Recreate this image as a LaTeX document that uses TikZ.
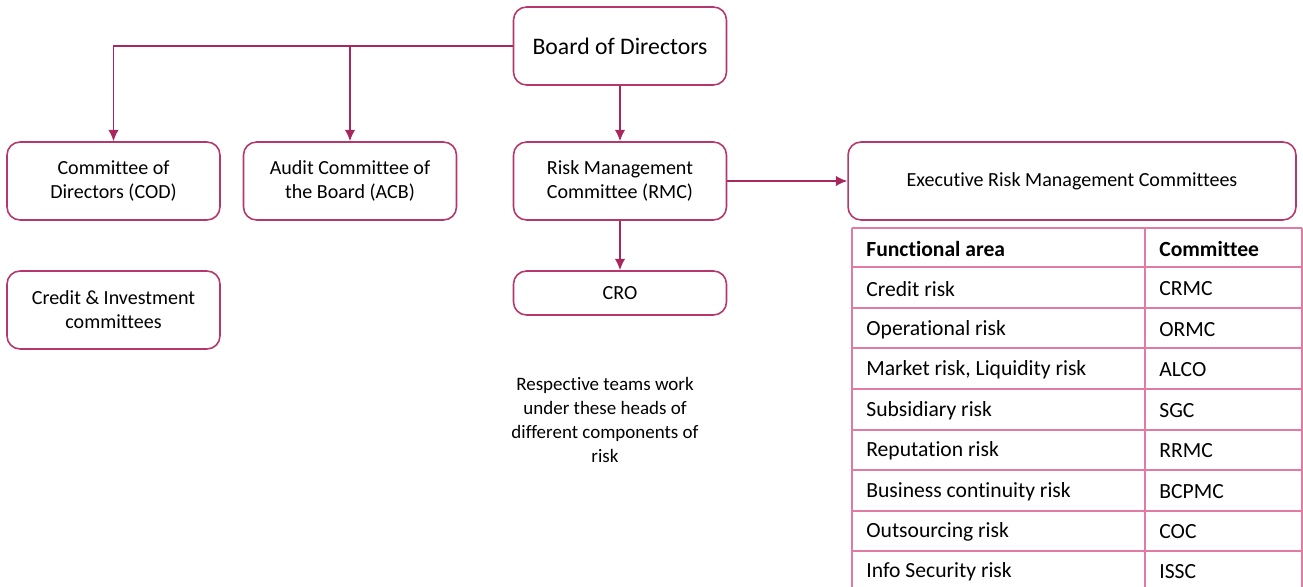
\documentclass[tikz,border=0pt]{standalone}
\usepackage{fontspec}
\setmainfont{Carlito}[Ligatures={NoCommon,NoContextual},Contextuals=NoAlternate]
\usetikzlibrary{positioning,arrows.meta}

\definecolor{boxline}{HTML}{B5376B}
\definecolor{arrowline}{HTML}{A8285E}
\definecolor{gridline}{HTML}{E27BA3}

\begin{document}
\begin{tikzpicture}[x=0.02cm,y=-0.02cm,>={Latex[length=6.5pt,width=6pt]}]
\tikzstyle{unit}=[rectangle,rounded corners=0.26cm,draw=boxline,line width=0.9pt,fill=white,align=center,font=\fontsize{11.4}{13.6}\selectfont,minimum width=4.26cm,minimum height=1.56cm,inner sep=2pt]
\tikzstyle{link}=[draw=arrowline,line width=0.9pt,->]
\tikzstyle{cell}=[anchor=west,inner sep=0pt,font=\fontsize{12.3}{14}\selectfont]
\useasboundingbox (0,0) rectangle (1303,587);

\node[unit,font=\fontsize{13.5}{16}\selectfont](board) at (620,46) {Board of Directors};
\node[unit](cod) at (113.5,181) {Committee of\\Directors (COD)};
\node[unit](acb) at (350,181) {Audit Committee of\\the Board (ACB)};
\node[unit](rmc) at (620,181) {Risk Management\\Committee (RMC)};
\node[unit,minimum width=8.96cm](erm) at (1072,181) {Executive Risk Management Committees};
\node[unit](cic) at (113.5,310) {Credit \& Investment\\committees};
\node[unit,minimum height=0.88cm](cro) at (620,293) {CRO};
\node[align=center,font=\fontsize{10.8}{13.6}\selectfont](teams) at (605,420) {Respective teams work\\under these heads of\\different components of\\risk};

\coordinate (split) at (350,46);
\draw[link] (board.west) -| (cod.north);
\draw[link] (split) -- (acb.north);
\draw[link] (board.south) -- (rmc.north);
\draw[link] (rmc.east) -- (erm.west);
\draw[link] (rmc.south) -- (cro.north);

% table of functional areas
\draw[gridline,line width=1.6pt] (852,228) -- (1302,228);
\foreach \y in {267,308,348,389,430,470,511,551}
  \draw[gridline,line width=1.6pt] (852,\y) -- (1302,\y);
\foreach \x in {852,1145,1302}
  \draw[gridline,line width=1.6pt] (\x,228) -- (\x,587);

\node[cell,font=\bfseries\fontsize{12.3}{14}\selectfont](hdarea) at (866,249) {Functional area};
\node[cell,font=\bfseries\fontsize{12.3}{14}\selectfont](hdcom) at (1159,249) {Committee};
\foreach \y/\area/\com [count=\i] in {289/Credit risk/CRMC,330/Operational risk/ORMC,370/{Market risk, Liquidity risk}/ALCO,411/Subsidiary risk/SGC,451/Reputation risk/RRMC,492/Business continuity risk/BCPMC,532/Outsourcing risk/COC,572/Info Security risk/ISSC}
{
  \node[cell](area\i) at (866,\y) {\area};
  \node[cell](com\i) at (1159,\y) {\com};
}
\end{tikzpicture}
\end{document}
